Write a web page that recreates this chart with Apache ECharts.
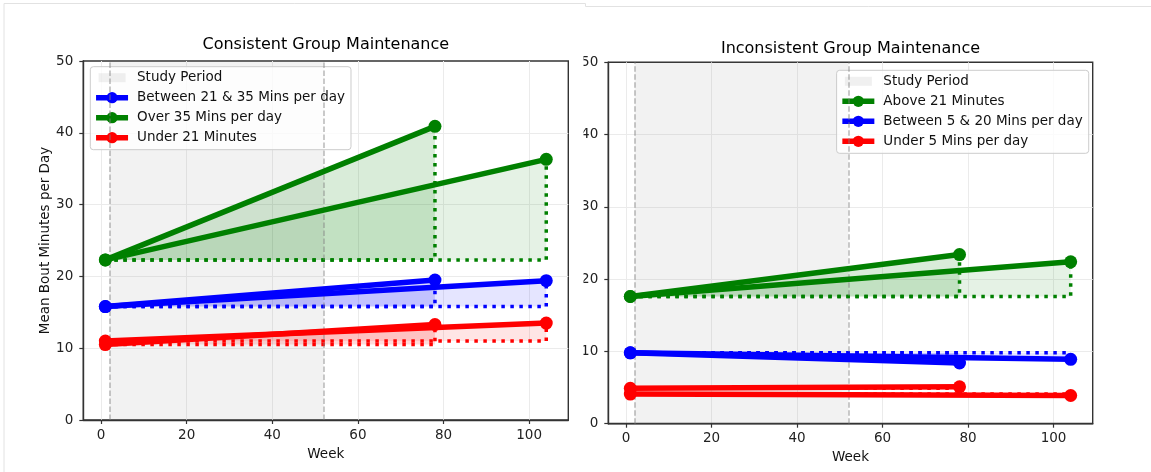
<!DOCTYPE html>
<html>
<head>
<meta charset="utf-8">
<script src="https://cdn.jsdelivr.net/npm/echarts@6/dist/echarts.min.js"></script>
<style>
html, body { margin: 0; padding: 0; background: #fff; }
#chart { width: 1151px; height: 472px; }
</style>
</head>
<body>
<div id="chart"></div>
<script>
// weeks: every line starts at week 1 and ends at week 78 or week 104
const startWeek = 1;
const endWeeks = [78, 104];
const studyPeriod = [2, 52];

// left panel
const consistentTitle = 'Consistent Group Maintenance';
const consistentGroups = ['Between 21 & 35 Mins per day', 'Over 35 Mins per day', 'Under 21 Minutes'];
const consistentStart78 = [15.8, 22.3, 10.5];
const consistentEnd78 = [19.5, 40.9, 13.3];
const consistentStart104 = [15.8, 22.3, 11.0];
const consistentEnd104 = [19.4, 36.3, 13.5];

// right panel
const inconsistentTitle = 'Inconsistent Group Maintenance';
const inconsistentGroups = ['Above 21 Minutes', 'Between 5 & 20 Mins per day', 'Under 5 Mins per day'];
const inconsistentStart78 = [17.6, 9.8, 4.9];
const inconsistentEnd78 = [23.4, 8.4, 5.1];
const inconsistentStart104 = [17.6, 9.8, 4.1];
const inconsistentEnd104 = [22.4, 8.9, 3.9];

const consistentColors = ['#0000ff', '#008000', '#ff0000'];
const inconsistentColors = ['#008000', '#0000ff', '#ff0000'];
// the week-78 fill is a bit stronger than the week-104 one
const fillOpacity = [0.15, 0.1];

const FONT = 'DejaVu Sans';
const studyName = 'Study Period';
// little grey patch for the legend (extra moveTo points pad the box)
const studyIcon = 'path://M0,0M2.5,2.5h27v9h-27zM32,14';

const chart = echarts.init(document.getElementById('chart'));

// one grid per panel, matches the two matplotlib axes
const grids = [
  { left: 83.3, top: 61, width: 485, height: 359 },
  { left: 608.3, top: 62.3, width: 484.4, height: 361.4 }
];

const buildSeries = (idx, groups, colors, starts, ends) => {
  const out = [];
  // study period shading + dashed edges
  out.push({
    name: studyName,
    type: 'line',
    xAxisIndex: idx,
    yAxisIndex: idx,
    data: [],
    itemStyle: { color: 'rgba(128,128,128,0.12)' },
    z: 1,
    silent: true,
    markArea: {
      silent: true,
      itemStyle: { color: 'rgba(128,128,128,0.1)' },
      data: [[{ xAxis: studyPeriod[0] }, { xAxis: studyPeriod[1] }]]
    },
    markLine: {
      silent: true,
      symbol: 'none',
      label: { show: false },
      lineStyle: { color: 'rgba(128,128,128,0.55)', type: [5.5, 2.5], width: 1.5 },
      data: studyPeriod.map((w) => ({ xAxis: w }))
    }
  });
  groups.forEach((g, gi) => {
    endWeeks.forEach((end, k) => {
      const s = starts[k][gi];
      const e = ends[k][gi];
      // main line with markers
      out.push({
        name: g,
        type: 'line',
        xAxisIndex: idx,
        yAxisIndex: idx,
        data: [[startWeek, s], [end, e]],
        symbol: 'circle',
        symbolSize: 13,
        itemStyle: { color: colors[gi] },
        lineStyle: { color: colors[gi], width: 5.5 },
        z: 5
      });
      // fill between line and the starting level
      out.push({
        type: 'line',
        xAxisIndex: idx,
        yAxisIndex: idx,
        data: [[startWeek, s], [end, e]],
        symbol: 'none',
        lineStyle: { width: 0, opacity: 0 },
        areaStyle: { origin: s, color: colors[gi], opacity: fillOpacity[k] },
        silent: true,
        z: 2
      });
      // dotted baseline and the drop at the end week
      out.push({
        type: 'line',
        xAxisIndex: idx,
        yAxisIndex: idx,
        data: [[startWeek, s], [end, s], [end, e]],
        symbol: 'none',
        lineStyle: { color: colors[gi], width: 3.5, type: [3.5, 5.5] },
        silent: true,
        z: 3
      });
    });
  });
  return out;
};

const xAxisFor = (idx) => ({
  type: 'value',
  gridIndex: idx,
  min: -4.15,
  max: 109.15,
  splitNumber: 5,
  name: 'Week',
  nameLocation: 'middle',
  nameGap: 27,
  nameTextStyle: { fontFamily: FONT, fontSize: 13.5, color: '#111' },
  axisLine: { onZero: false, lineStyle: { color: '#333', width: 1.4 } },
  axisTick: { length: 4, lineStyle: { color: '#333', width: 1.2 } },
  axisLabel: { showMinLabel: false, showMaxLabel: false, margin: 8, fontFamily: FONT, fontSize: 13.5, color: '#222' },
  splitLine: { show: true, showMinLine: false, showMaxLine: false, lineStyle: { color: '#ebebeb', width: 1 } }
});

const yAxisFor = (idx, name) => ({
  type: 'value',
  gridIndex: idx,
  min: 0,
  max: 50,
  interval: 10,
  name: name,
  nameLocation: 'middle',
  nameGap: 31,
  nameTextStyle: { fontFamily: FONT, fontSize: 13.5, color: '#111' },
  axisLine: { show: true, onZero: false, lineStyle: { color: '#333', width: 1.4 } },
  axisTick: { show: true, length: 4, lineStyle: { color: '#333', width: 1.2 } },
  axisLabel: { margin: 10, fontFamily: FONT, fontSize: 13.5, color: '#222' },
  splitLine: { show: true, showMinLine: false, showMaxLine: false, lineStyle: { color: '#ebebeb', width: 1 } }
});

const legendFor = (left, top, groups) => ({
  orient: 'vertical',
  left: left,
  top: top,
  selectedMode: false,
  data: [{ name: studyName, icon: studyIcon, itemStyle: { color: 'rgba(128,128,128,0.12)' } }].concat(groups),
  itemWidth: 32,
  itemHeight: 14,
  itemGap: 6,
  padding: [4, 6, 5, 3],
  backgroundColor: 'rgba(255,255,255,0.8)',
  borderColor: '#cccccc',
  borderWidth: 1,
  borderRadius: 3,
  lineStyle: { width: 5.5 },
  textStyle: { fontFamily: FONT, fontSize: 13.5, color: '#111', padding: [0, 0, 0, 4] }
});

const option = {
  animation: false,
  backgroundColor: '#fff',
  title: [
    {
      text: consistentTitle, left: 325.8, top: 37, textAlign: 'center', padding: 0,
      textStyle: { fontFamily: FONT, fontSize: 16, fontWeight: 'normal', color: '#000' }
    },
    {
      text: inconsistentTitle, left: 850.5, top: 40.5, textAlign: 'center', padding: 0,
      textStyle: { fontFamily: FONT, fontSize: 16, fontWeight: 'normal', color: '#000' }
    }
  ],
  grid: grids.map((g) => Object.assign({ show: true, borderColor: '#333', borderWidth: 1.4, backgroundColor: 'transparent', containLabel: false }, g)),
  legend: [
    legendFor(90.3, 66.7, consistentGroups),
    legendFor(836.6, 70.3, inconsistentGroups)
  ],
  xAxis: [xAxisFor(0), xAxisFor(1)],
  yAxis: [yAxisFor(0, 'Mean Bout Minutes per Day'), yAxisFor(1, '')],
  series: buildSeries(0, consistentGroups, consistentColors,
      [consistentStart78, consistentStart104], [consistentEnd78, consistentEnd104])
    .concat(buildSeries(1, inconsistentGroups, inconsistentColors,
      [inconsistentStart78, inconsistentStart104], [inconsistentEnd78, inconsistentEnd104])),
  graphic: [
    // the right picture was cropped: its y labels are cut on the left
    { type: 'rect', shape: { x: 570, y: 45, width: 13.5, height: 400 }, style: { fill: '#fff' }, z: 100, silent: true },
    // faint image borders
    {
      type: 'polyline',
      shape: { points: [[4, 472], [4, 3.5], [585.5, 3.5], [585.5, 6.5], [1151, 6.5]] },
      style: { stroke: '#e2e2e2', lineWidth: 1, fill: null },
      z: 100, silent: true
    }
  ]
};

chart.setOption(option);
</script>
</body>
</html>
